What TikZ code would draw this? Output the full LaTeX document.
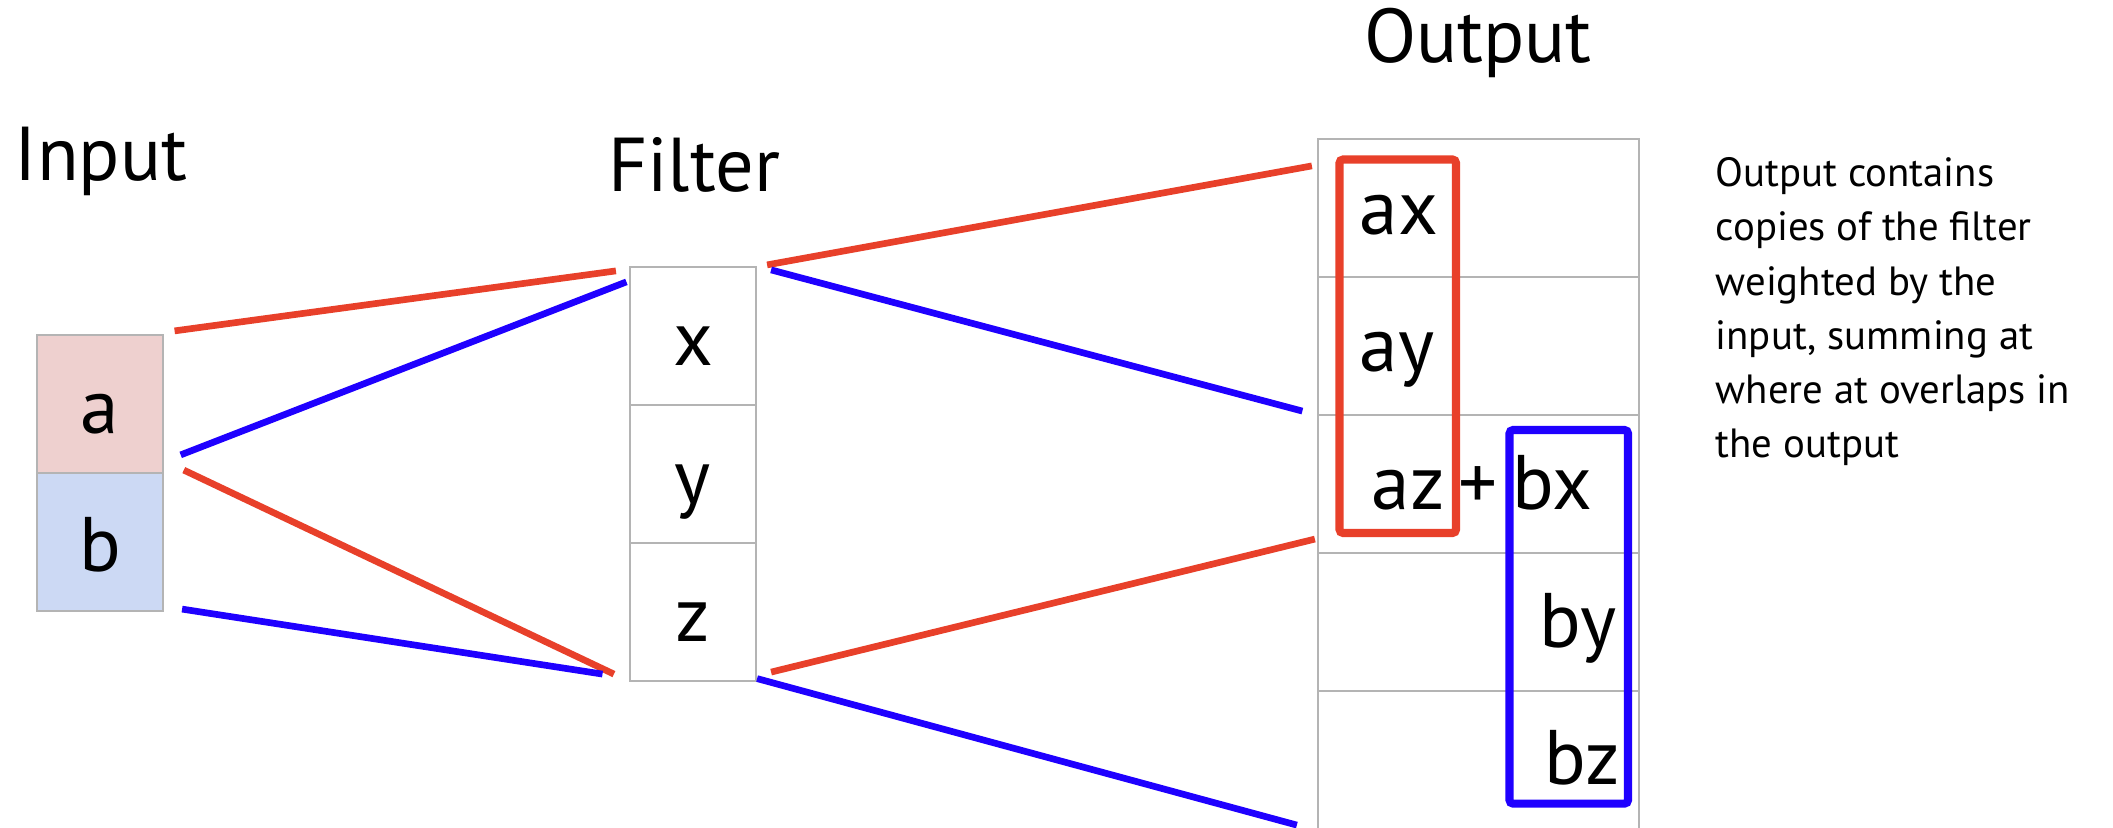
\documentclass[tikz,border=0pt]{standalone}
\usepackage{fontspec}
\setmainfont{PT Sans}
\usepackage{xcolor}
\usetikzlibrary{positioning}
\definecolor{InA}{HTML}{EED0CF}
\definecolor{InB}{HTML}{CCD9F4}
\definecolor{Grid}{HTML}{B4B4B4}
\definecolor{RedLine}{HTML}{E8402A}
\definecolor{BlueLine}{HTML}{1F00FF}

\tikzset{
  cell/.style={draw=Grid,line width=0.6pt,minimum width=1.26cm,minimum height=1.38cm,
    inner sep=0pt,text height=0.58cm,text depth=0pt,font=\fontsize{22}{26}\selectfont},
  ocell/.style={cell,minimum width=3.21cm},
  otext/.style={anchor=base west,inner sep=0pt,font=\fontsize{22}{26}\selectfont},
  title/.style={anchor=base,inner sep=0pt,font=\fontsize{21.7}{26}\selectfont},
  redlink/.style={draw=RedLine,line width=1.9pt},
  bluelink/.style={draw=BlueLine,line width=1.9pt},
  redbox/.style={draw=RedLine,line width=2.3pt,rounded corners=1pt},
  bluebox/.style={draw=BlueLine,line width=2.3pt,rounded corners=1pt}
}

\begin{document}
\begin{tikzpicture}[x=0.01cm,y=-0.01cm]
  \useasboundingbox (0,0) rectangle (2113,828);

  % titles
  \node[title] (inTitle) at (101,181) {Input};
  \node[title] (filtTitle) at (694,192) {Filter};
  \node[title] (outTitle) at (1478,63) {Output};

  % input and filter
  \node[cell,fill=InA] (a) at (100,404) {a};
  \node[cell,fill=InB] (b) at (100,542) {b};
  \node[cell] (f1) at (693,336) {x};
  \node[cell] (f2) at (693,474) {y};
  \node[cell] (f3) at (693,612) {z};

  % output
  \node[ocell] (o1) at (1478.5,208) {};
  \node[ocell] (o2) at (1478.5,346) {};
  \node[ocell] (o3) at (1478.5,484) {};
  \node[ocell] (o4) at (1478.5,622) {};
  \node[ocell] (o5) at (1478.5,760) {};

  % input -> filter
  \draw[redlink] ([shift={(10.5,-3)}]a.north east) -- ([shift={(-13,5)}]f1.north west);
  \draw[bluelink] ([shift={(16.6,-17)}]b.north east) -- ([shift={(-2.5,16)}]f1.north west);
  \draw[redlink] ([shift={(19.7,-4)}]a.south east) -- ([shift={(-15,-8)}]f3.south west);
  \draw[bluelink] ([shift={(18,-3)}]b.south east) -- ([shift={(-26.4,-8)}]f3.south west);

  % filter -> output
  \draw[redlink] ([shift={(10,-1)}]f1.north east) -- ([shift={(-5,28)}]o1.north west);
  \draw[bluelink] ([shift={(14,4)}]f1.north east) -- ([shift={(-14.5,-5)}]o2.south west);
  \draw[redlink] ([shift={(14,-10)}]f3.south east) -- ([shift={(-2,-15)}]o3.south west);
  \draw[bluelink] ([shift={(0,-3.5)}]f3.south east) -- ([shift={(-20,-5)}]o5.south west);

  % copies of the filter
  \draw[redbox] (1339.5,159.5) rectangle (1456,533);
  \draw[bluebox] (1509.5,430) rectangle (1628,803.6);

  \node[otext] (ax) at (1359,235) {ax};
  \node[otext] (ay) at (1359,372) {ay};
  \node[otext] (az) at (1371,509.5) {az};
  \node[otext] (plus) at (1458,509.5) {+};
  \node[otext] (bx) at (1512,509.5) {bx};
  \node[otext] (by) at (1539,647) {by};
  \node[otext] (bz) at (1544,784) {bz};

  % note
  \node[anchor=north west,inner sep=0pt,align=left,font=\fontsize{11.6}{15.4}\selectfont]
    (note) at (1715,157) {Output contains\\copies of the filter\\weighted by the\\input, summing at\\where at overlaps in\\the output};
\end{tikzpicture}
\end{document}
